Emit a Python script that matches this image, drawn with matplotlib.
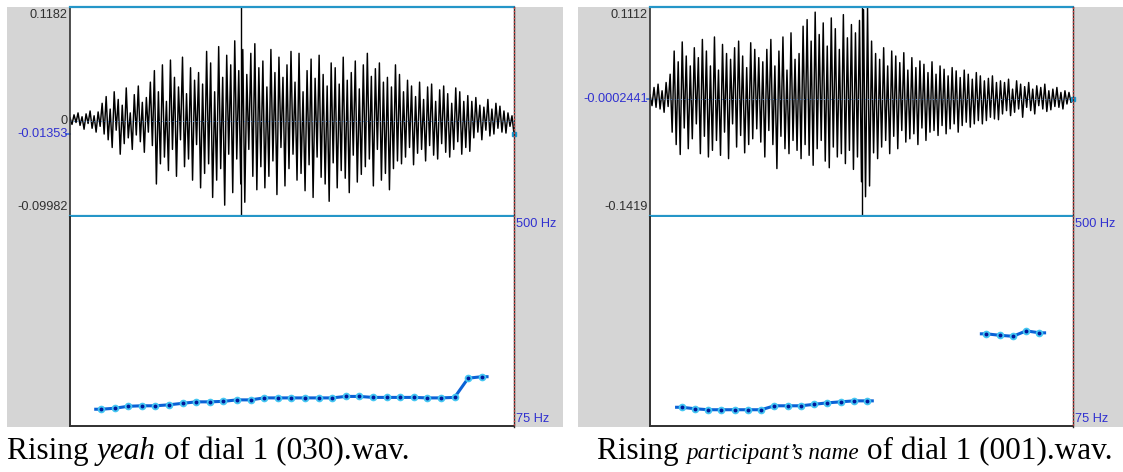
import numpy as np
import matplotlib
matplotlib.use("Agg")
import matplotlib.pyplot as plt
from matplotlib.patches import Rectangle
from matplotlib.lines import Line2D
from matplotlib.transforms import blended_transform_factory

# ---------------- data ----------------
# waveform extremes (thousandths of full scale), left recording: "yeah"
wave_left = [
    3, -4, 6, -2, 8, -5, 4, -9, 7, -3, 10, -8, 5, -12, 9,
    -6, 18, -14, 25, -20, 12, -28, 30, -10, 22, -35, 16, -24, 34, -18, 8, -30, 27, -15, 36, -22, 19, -33, 24, -12,
    40, -26, 52, -66, 30, -45, 58, -38, 20, -52, 63, -30, 45, -58, 35, -20, 66, -48, 28, -40, 55, -62, 42, -25, 50,
    -70, 38, -55, 72, -45, 60, -80, 30, -62, 77, -50, 45, -88, 68, -35, 58, -75, 83, -40, 52, -66, 74, -85, 48, -30,
    70, -58, 80, -72, 55,
    -48, 62, -70, 35, -58, 74, -42, 50, -77, 66, -28, 45, -68, 58, -50, 72, -35, 40, -62, 70, -55, 30, -73, 52, -46,
    64, -80, 44, -38, 68, -59, 48, -66, 36, -84, 60, -44, 55, -70, 38, -52, 66, -60, 42, -75, 50, -36, 62, -64, 33,
    -56, 58, -48, 70, -40, 46, -68, 54, -30, 60, -62, 40, -55, 45, -72, 35, -50, 58, -42, 48,
    -45, 30, -38, 42, -28, 36, -46, 25, -34, 40, -30, 22, -42, 35, -26, 38, -36, 20, -40, 32, -24, 36, -33, 28, -38,
    18, -30, 34, -22, 30, -35, 20, -28, 26, -32,
    20, -18, 24, -12, 16, -20, 14, -10, 22, -16, 12, -14, 18, -8, 15, -12, 10, -13, 8, -6, 5, -14,
]
# waveform extremes (thousandths), right recording: participant's name
wave_right = [
    5, -8, 14, -10, 18, -12, 10, -16, 20, -9,
    30, -40, 58, -55, 45, -67, 69, -35, 52, -60, 40, -48, 62, -30, 50,
    -66, 72, -45, 58, -70, 40, -62, 75, -50, 35, -68, 66, -40, 55, -72, 48, -30, 62, -58, 70, -44, 52, -65, 38, -55,
    68, -48, 60, -36, 50,
    -52, 45, -70, 60, -38, 72, -55, 40, -84, 58, -45, 75, -60, 35, -66, 80, -50, 48, -62, 55,
    -72, 88, -55, 96, -68, 70, -80, 105, -60, 78, -50, 92, -75, 64, -83, 98, -58, 85, -70, 60, -66, 102, -78, 74, -62,
    90, -85, 80, -70, 95,
    -100, 108, -118, 110, -105,
    70, -65, 55, -72, 48, -58, 62, -50, 40, -66, 58, -45, 52, -60, 44, -38, 56, -52, 35, -48, 50, -42, 38, -55, 46,
    -35, 42, -50, 32, -40, 45, -38, 30, -44, 40, -32, 36, -42, 28, -36, 38, -30, 34, -40, 26, -32, 35, -28, 30, -34,
    24, -30, 32, -26, 28, -30, 22, -26, 25, -22, 28, -24, 20, -25, 22,
    -18, 20, -14, 24, -20, 12, -16, 22, -12, 18, -22, 15, -10, 20, -14, 12, -18, 16, -8, 14, -12, 18, -15, 10, -13,
    12, -9, 14, -10, 8, -12, 10, -6, 8, -4, 0,
]

# pitch tracks (Hz), one value per 10 ms analysis frame; nan = unvoiced
pitch_left = [109, 111, 115, 116, 116, 118, 121, 124, 124, 125, 128, 128, 132, 132, 132,
              132, 132, 132, 135, 135, 133, 133, 133, 133, 132, 132, 133, 172, 175]
pitch_right = [113, 110, 108, 108, 108, 108, 108, 116, 116, 116, 119, 122, 124, 126, 126,
               np.nan, np.nan, np.nan, np.nan, np.nan, np.nan, np.nan, np.nan,
               262, 259, 257, 268, 264]

panels = [
    dict(wave=wave_left, pitch=pitch_left, dur=0.3265, t0=0.0228, cursor=0.1257,
         ymax=0.1182, ymin=-0.09982, cursor_val=-0.01353,
         top_lbl="0.1182", bot_lbl="-0.09982", zero_lbl="0", cur_lbl="-0.01353",
         box=(70, 514), gray=(7, 563)),
    dict(wave=wave_right, pitch=pitch_right, dur=0.3192, t0=0.0239, cursor=0.1602,
         ymax=0.1112, ymin=-0.1419, cursor_val=-0.0002441,
         top_lbl="0.1112", bot_lbl="-0.1419", zero_lbl=None, cur_lbl="-0.0002441",
         box=(650, 1073), gray=(578, 1123)),
]
captions = [
    [("Rising ", "normal", 1.0), ("yeah", "italic", 1.0), (" of dial 1 (030).wav.", "normal", 1.0)],
    [("Rising ", "normal", 1.0), ("participant\u2019s name", "italic", 0.74), (" of dial 1 (001).wav.", "normal", 1.0)],
]
caption_x = [7, 597]

F0_MIN, F0_MAX = 75, 500
FRAME = 0.01

# ---------------- drawing ----------------
W, H = 1123, 472
fig = plt.figure(figsize=(W / 100, H / 100), dpi=100)
fig.patch.set_facecolor("white")

GRAY = "#d5d5d5"
BLUE_TXT = "#3030d0"
BOX_BLUE = "#2596c8"
LBL_FONT = dict(family="Liberation Sans", size=9.2)

TOP, MID, BOT = 7, 216.5, 426


def axes_px(x0, y0, x1, y1):
    return fig.add_axes([x0 / W, 1 - y1 / H, (x1 - x0) / W, (y1 - y0) / H])


for p in panels:
    bx0, bx1 = p["box"]
    gx0, gx1 = p["gray"]
    fig.add_artist(Rectangle((gx0 / W, 1 - 427 / H), (gx1 - gx0) / W, (427 - 7) / H,
                             transform=fig.transFigure, facecolor=GRAY, edgecolor="none", zorder=0))

    # waveform
    axw = axes_px(bx0, TOP, bx1, MID)
    vals = np.array(p["wave"]) / 1000.0
    t = np.linspace(0, p["dur"], len(vals))
    axw.plot(t, vals, color="black", lw=1.05)
    axw.set_xlim(0, p["dur"])
    axw.set_ylim(p["ymin"], p["ymax"])
    axw.set_xticks([])
    axw.set_yticks([])
    axw.axhline(0, color="#4a7fc8", lw=0.7, ls=(0, (1, 2.5)))
    axw.axvline(p["cursor"], color="black", lw=1.0)
    for s in ("top", "bottom"):
        axw.spines[s].set_color(BOX_BLUE)
        axw.spines[s].set_linewidth(1.6)
    axw.spines["left"].set_color("#303030")
    axw.spines["left"].set_linewidth(1.2)
    axw.spines["right"].set_visible(False)
    tr = blended_transform_factory(axw.transAxes, axw.transData)
    axw.plot([-0.008, 0.0], [p["cursor_val"]] * 2, color="#3a6ee0", lw=1.2, transform=tr, clip_on=False)
    axw.plot([1.0], [p["cursor_val"]], "s", ms=3, color="#1a9ad0", transform=tr, clip_on=False)

    lx = (bx0 - 2) / W
    fig.text(lx, 1 - 14.5 / H, p["top_lbl"], ha="right", va="center", color="#303030", **LBL_FONT)
    fig.text(lx, 1 - 207 / H, p["bot_lbl"], ha="right", va="center", color="#303030", **LBL_FONT)
    ytr = blended_transform_factory(fig.transFigure, axw.transData)
    if p["zero_lbl"] is not None:
        fig.text(lx, 0, p["zero_lbl"], ha="right", va="center", color="#303030",
                 transform=ytr, **LBL_FONT)
    fig.text(lx, p["cursor_val"], p["cur_lbl"], ha="right", va="center", color=BLUE_TXT,
             transform=ytr, **LBL_FONT)

    # pitch
    axp = axes_px(bx0, MID, bx1, BOT)
    axp.set_xlim(0, p["dur"])
    axp.set_ylim(F0_MIN, F0_MAX)
    axp.set_xticks([])
    axp.set_yticks([])
    for s in ("left", "bottom"):
        axp.spines[s].set_color("#303030")
        axp.spines[s].set_linewidth(1.4)
    axp.spines["top"].set_visible(False)
    axp.spines["right"].set_visible(False)

    f0 = np.array(p["pitch"], dtype=float)
    tf = p["t0"] + FRAME * np.arange(len(f0))
    voiced = ~np.isnan(f0)
    # contiguous voiced runs
    idx = np.where(voiced)[0]
    runs = np.split(idx, np.where(np.diff(idx) > 1)[0] + 1)
    for r in runs:
        tt = np.concatenate([[tf[r[0]] - FRAME / 2], tf[r], [tf[r[-1]] + FRAME / 2]])
        ff = np.concatenate([[f0[r[0]]], f0[r], [f0[r[-1]]]])
        axp.plot(tt, ff, color="#0a62d6", lw=2.2, solid_capstyle="butt", zorder=2)
    axp.plot(tf[voiced], f0[voiced], "o", ms=5.5, color="#44c6f2", mec="none", zorder=3)
    axp.plot(tf[voiced], f0[voiced], "o", ms=2.8, color="#00189a", mec="none", zorder=4)

    fig.text((bx1 + 2) / W, 1 - 224 / H, "500 Hz", ha="left", va="center", color=BLUE_TXT, **LBL_FONT)
    fig.text((bx1 + 2) / W, 1 - 419 / H, "75 Hz", ha="left", va="center", color=BLUE_TXT, **LBL_FONT)

    # right edge of the editor window (dark line with red dotted overlay)
    fig.add_artist(Line2D([bx1 / W] * 2, [1 - TOP / H, 1 - 427 / H], color="#303030", lw=1.0,
                          transform=fig.transFigure, zorder=5))
    fig.add_artist(Line2D([bx1 / W] * 2, [1 - TOP / H, 1 - 427 / H], color="#e04040", lw=1.0,
                          ls=(0, (1, 1.5)), transform=fig.transFigure, zorder=6))

# captions: pieces laid out one after another
fig.canvas.draw()
renderer = fig.canvas.get_renderer()
CAP_SIZE = 22.5
for cx, pieces in zip(caption_x, captions):
    x = cx / W
    for txt, style, scale in pieces:
        tobj = fig.text(x, 1 - 459 / H, txt, ha="left", va="baseline", family="Liberation Serif",
                        style=style, size=CAP_SIZE * scale, color="black")
        bb = tobj.get_window_extent(renderer=renderer)
        x = bb.x1 / W

fig.savefig("out.png", dpi=100, facecolor="white")
